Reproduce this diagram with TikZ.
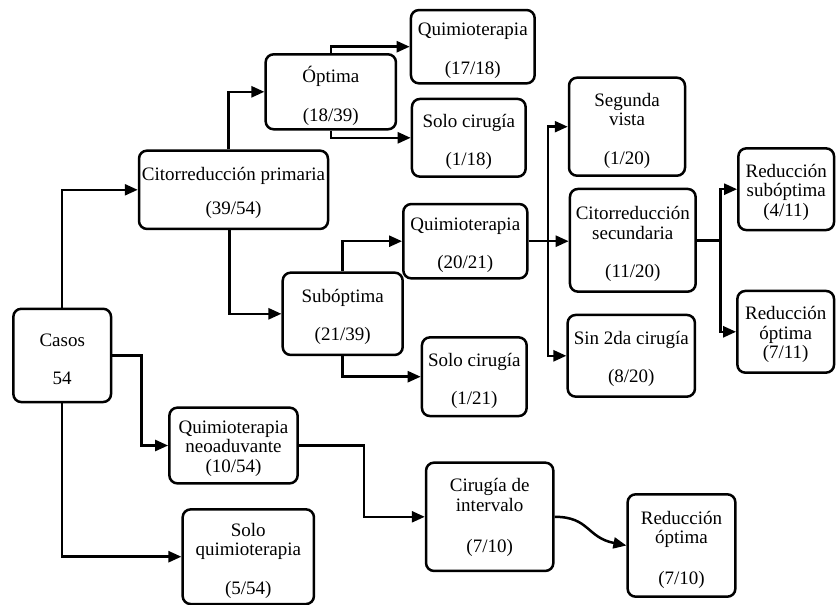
\documentclass[tikz,border=0pt]{standalone}
\usepackage{fontspec}
\setmainfont{Liberation Serif}
\usetikzlibrary{arrows.meta,calc}
\begin{document}
\begin{tikzpicture}[x=1pt,y=-1pt,
  box/.style={draw, line width=2.5pt, rounded corners=8pt, inner sep=0pt},
  lbl/.style={align=center, inner sep=0pt, font=\fontsize{19}{19.5}\selectfont},
  conn/.style={line width=2.5pt, -{Triangle[length=13pt,width=11pt]}},
  wire/.style={line width=2.5pt}]
\useasboundingbox (0,0) rectangle (836,605);
\node[box, minimum width=97.7, minimum height=93.3] (casos) at (62.2,355.4) {};
\node[lbl] (casos-t) at ([yshift=-4pt]casos.center) {Casos\\[19pt]54};
\node[box, minimum width=189, minimum height=78.3] (cp) at (233.5,189.8) {};
\node[lbl] (cp-t) at ([yshift=-3pt]cp.center) {Citorreducción primaria\\[14pt](39/54)};
\node[box, minimum width=130.3, minimum height=75] (opt) at (330.8,91.8) {};
\node[lbl] (opt-t) at ([yshift=-4pt]opt.center) {Óptima\\[19pt](18/39)};
\node[box, minimum width=123.7, minimum height=73.3] (q1) at (472.8,46.7) {};
\node[lbl] (q1-t) at ([yshift=-4pt]q1.center) {Quimioterapia\\[19pt](17/18)};
\node[box, minimum width=113.7, minimum height=77.7] (sc1) at (468.8,137.8) {};
\node[lbl] (sc1-t) at ([yshift=-4pt]sc1.center) {Solo cirugía\\[18pt](1/18)};
\node[box, minimum width=116, minimum height=98] (sv) at (627,126.7) {};
\node[lbl] (sv-t) at ([yshift=-4pt]sv.center) {Segunda\\vista\\[19pt](1/20)};
\node[box, minimum width=125.7, minimum height=102.7] (cs) at (632.8,240.3) {};
\node[lbl] (cs-t) at ([yshift=-4pt]cs.center) {Citorreducción\\secundaria\\[19pt](11/20)};
\node[box, minimum width=95.7, minimum height=81.7] (rs) at (786.2,189.2) {};
\node[lbl] (rs-t) at ([yshift=-3pt]rs.center) {Reducción\\subóptima\\(4/11)};
\node[box, minimum width=124, minimum height=74.3] (q2) at (465.3,241.2) {};
\node[lbl] (q2-t) at ([yshift=-4pt]q2.center) {Quimioterapia\\[19pt](20/21)};
\node[box, minimum width=120, minimum height=82.3] (sub) at (342.7,313.8) {};
\node[lbl] (sub-t) at ([yshift=-3pt]sub.center) {Subóptima\\[19pt](21/39)};
\node[box, minimum width=128.3, minimum height=75.7] (neo) at (233.5,445.5) {};
\node[lbl] (neo-t) at ([yshift=-3pt]neo.center) {Quimioterapia\\neoaduvante\\(10/54)};
\node[box, minimum width=131.3, minimum height=94.7] (sq) at (248.3,556.7) {};
\node[lbl] (sq-t) at ([yshift=-4pt]sq.center) {Solo\\quimioterapia\\[19pt](5/54)};
\node[box, minimum width=104.7, minimum height=78.7] (sc2) at (474.3,376.7) {};
\node[lbl] (sc2-t) at ([yshift=-4pt]sc2.center) {Solo cirugía\\[18pt](1/21)};
\node[box, minimum width=127.3, minimum height=81.7] (s2) at (631.3,355.8) {};
\node[lbl] (s2-t) at ([yshift=-3pt]s2.center) {Sin 2da cirugía\\[19pt](8/20)};
\node[box, minimum width=96.7, minimum height=81.7] (ro) at (785.7,331.8) {};
\node[lbl] (ro-t) at ([yshift=-3pt]ro.center) {Reducción\\óptima\\(7/11)};
\node[box, minimum width=127.3, minimum height=108.3] (ci) at (489.7,516.8) {};
\node[lbl] (ci-t) at ([yshift=-1pt]ci.center) {Cirugía de\\intervalo\\[22pt](7/10)};
\node[box, minimum width=107.7, minimum height=102.4] (ro2) at (681.5,545.5) {};
\node[lbl] (ro2-t) at ([yshift=-4pt]ro2.center) {Reducción\\óptima\\[21pt](7/10)};

\draw[conn] (casos.north) |- (cp.west);
\draw[conn] (casos.east) -- ++(29,0) |- (neo.west);
\draw[conn] (casos.south) |- (sq.west);
\draw[conn] ([xshift=-5pt]cp.north) |- (opt.west);
\draw[conn] ([xshift=-4pt]cp.south) |- (sub.west);
\draw[conn] (opt.north) |- (q1.west);
\draw[conn] (opt.south) |- (sc1.west);
\draw[conn] (sub.north) |- (q2.west);
\draw[conn] (sub.south) |- (sc2.west);
\draw[conn] (q2.east) -- (q2.east -| cs.west);
\coordinate (j1) at ($(q2.east)+(19.5,0)$);
\draw[conn] (j1) |- (sv.west);
\draw[conn] (j1) |- (s2.west);
\coordinate (j2) at ($(cs.east)+(23.5,0)$);
\draw[wire] (cs.east) -- (j2);
\draw[conn] (j2) |- (rs.west);
\draw[conn] (j2) |- (ro.west);
\draw[conn] (neo.east) -- ++(65,0) |- (ci.west);
\draw[conn] (ci.east) .. controls +(35,0) and +(-40,-8) .. (ro2.west);
\end{tikzpicture}
\end{document}
